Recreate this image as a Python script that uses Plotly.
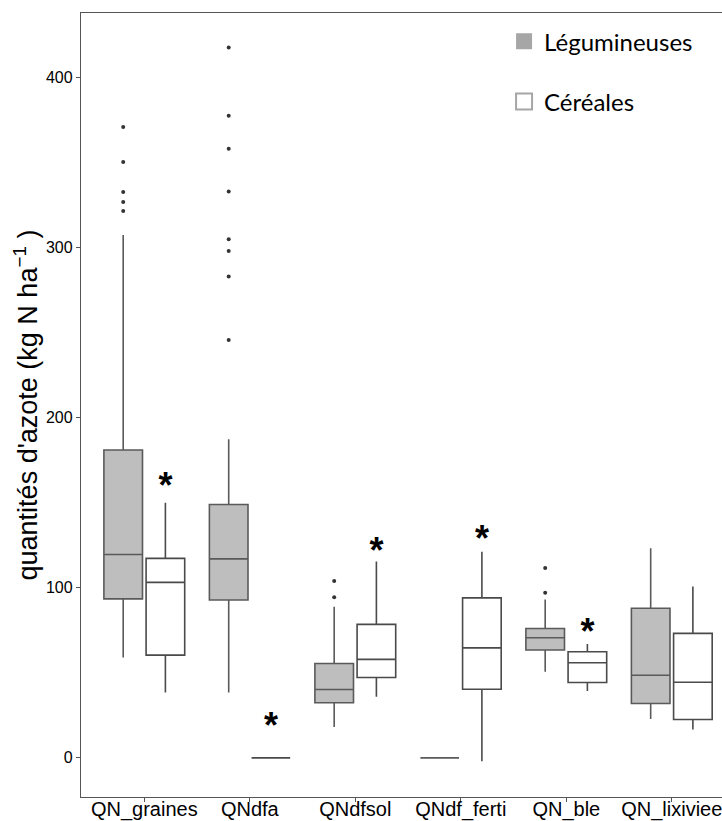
import plotly.graph_objects as go

categories = ["QN_graines", "QNdfa", "QNdfsol", "QNdf_ferti", "QN_ble", "QN_lixiviee"]

# Légumineuses box statistics
leg_low = [59, 38.5, 18.2, 0, 50.6, 22.8]
leg_q1 = [93.5, 92.8, 32.4, 0, 63.4, 32]
leg_med = [119.6, 117, 40.2, 0, 70.6, 48.6]
leg_q3 = [181, 149, 55.5, 0, 76.1, 88]
leg_up = [307.5, 187.3, 88.8, 0, 93.2, 123.2]

# Céréales box statistics
cer_low = [38.5, 0, 35.9, -2, 39.4, 16.7]
cer_q1 = [60.4, 0, 47.3, 40.4, 44.3, 22.6]
cer_med = [103.2, 0, 57.9, 64.7, 55.9, 44.5]
cer_q3 = [117.3, 0, 78.5, 94.1, 62.4, 73.2]
cer_up = [150, 0, 115.5, 121.2, 66.9, 100.8]

# Outliers (Légumineuses)
leg_out_cat = ["QN_graines"] * 5 + ["QNdfa"] * 8 + ["QNdfsol"] * 2 + ["QN_ble"] * 2
leg_out_val = [371, 350.4, 332.8, 326.9, 321.6,
               417.7, 377.6, 358.2, 333, 305, 298, 283, 245.7,
               104, 94.5,
               111.6, 97.1]

# Significance stars (above Céréales boxes)
star_cat = ["QN_graines", "QNdfa", "QNdfsol", "QNdf_ferti", "QN_ble"]
star_val = [158, 17, 120, 127, 72]

yticks = [0, 100, 200, 300, 400]

fig = go.Figure()

fig.add_trace(go.Box(
    x=categories, q1=leg_q1, median=leg_med, q3=leg_q3,
    lowerfence=leg_low, upperfence=leg_up,
    name="Légumineuses", offsetgroup="L", showlegend=False,
    fillcolor="#BEBEBE", line=dict(color="#5A5A5A", width=1.6),
    whiskerwidth=0, boxpoints=False, hoverinfo="skip",
))
fig.add_trace(go.Box(
    x=categories, q1=cer_q1, median=cer_med, q3=cer_q3,
    lowerfence=cer_low, upperfence=cer_up,
    name="Céréales", offsetgroup="C", showlegend=False,
    fillcolor="white", line=dict(color="#4A4A4A", width=1.6),
    whiskerwidth=0, boxpoints=False, hoverinfo="skip",
))

fig.add_trace(go.Scatter(
    x=leg_out_cat, y=leg_out_val, mode="markers", offsetgroup="L",
    marker=dict(size=4, color="#333333"), showlegend=False, hoverinfo="skip",
))
fig.add_trace(go.Scatter(
    x=star_cat, y=star_val, mode="text", offsetgroup="C",
    text=["<b>*</b>"] * len(star_cat), textposition="middle center",
    textfont=dict(size=36, color="black", family="Liberation Sans"),
    showlegend=False, hoverinfo="skip",
))

# Legend entries
fig.add_trace(go.Scatter(
    x=[None], y=[None], mode="markers", name="Légumineuses", legendgroup="a",
    marker=dict(symbol="square", size=16, color="#A6A6A6", line=dict(width=0)),
))
fig.add_trace(go.Scatter(
    x=[None], y=[None], mode="markers", name="Céréales", legendgroup="b",
    marker=dict(symbol="square", size=16, color="white", line=dict(color="#A6A6A6", width=2)),
))

fig.update_layout(
    width=722, height=821,
    margin=dict(l=81, r=0, t=13, b=24),
    plot_bgcolor="white", paper_bgcolor="white",
    boxmode="group", boxgap=0.2, boxgroupgap=0.085,
    scattermode="group", scattergap=0.2,
    legend=dict(x=0.66, y=0.992, xanchor="left", yanchor="top",
                font=dict(family="Lato", size=24, color="black"),
                tracegroupgap=26, bgcolor="rgba(0,0,0,0)"),
    font=dict(family="Liberation Sans", color="black"),
    showlegend=True,
)
fig.update_xaxes(
    type="category", categoryorder="array", categoryarray=categories,
    range=[-0.6, 5.476], showline=True, mirror=True, linecolor="#555555", linewidth=1.3,
    ticks="outside", ticklen=4, tickcolor="#555555",
    tickfont=dict(size=20, color="black", family="Liberation Sans"),
    ticklabelstandoff=-10,
    showgrid=False, zeroline=False, automargin=False,
)
fig.update_yaxes(
    range=[-23, 438], tickvals=yticks, ticktext=[str(v) for v in yticks],
    showline=True, linecolor="#555555", linewidth=1.3,
    ticks="outside", ticklen=4, tickcolor="#555555",
    tickfont=dict(size=16, color="black", family="Liberation Sans"),
    showgrid=False, zeroline=False, automargin=False,
    title=dict(text="quantités d'azote (kg N ha<sup>−1</sup> )",
               font=dict(size=27, family="Liberation Sans", color="black"), standoff=0),
)

fig.write_html(
    "out.html",
    config={"displayModeBar": False},
    post_script="document.body.style.margin='0';document.body.style.overflow='hidden';",
)
